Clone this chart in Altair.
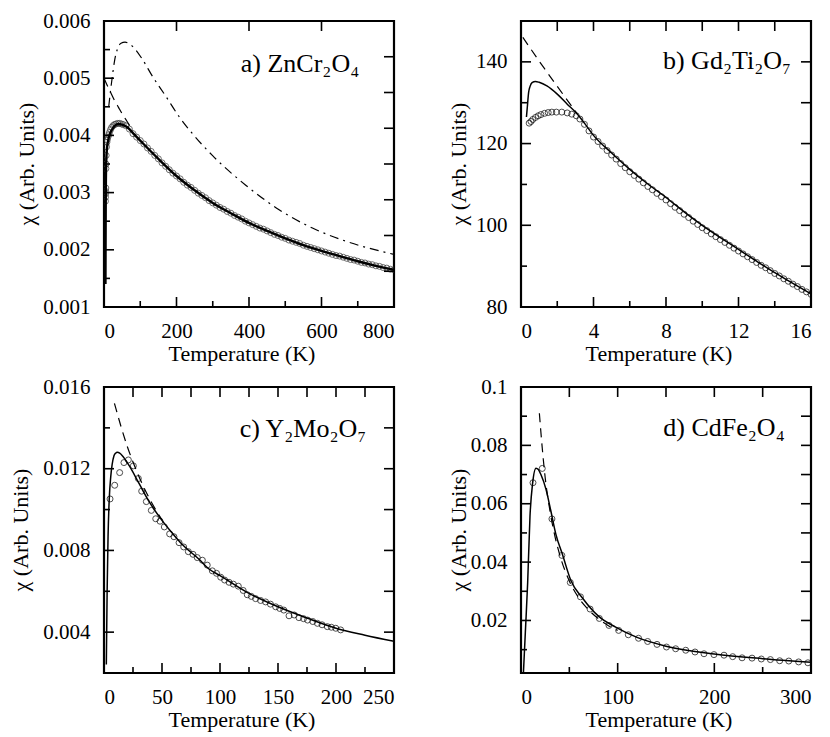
import altair as alt
import pandas as pd

FONT = "Liberation Serif"
W, H = 290, 286

# ---------------- Panel a) ZnCr2O4 ----------------
a_circ_T = [4.0, 4.2, 4.5, 4.8, 5.0, 5.3, 5.6, 6.0, 7.0, 8.0, 9.0, 11, 13, 15, 18, 21, 25, 29, 33, 38, 43, 48, 53,
            60, 70, 80, 90, 100, 110, 120, 130, 140, 150, 160, 170, 180, 190, 200, 210, 220, 230, 240, 250,
            260, 270, 280, 290, 300, 310, 320, 330, 340, 350, 360, 370, 380, 390, 400, 410, 420, 430, 440,
            450, 460, 470, 480, 490, 500, 510, 520, 530, 540, 550, 560, 570, 580, 590, 600, 610, 620, 630,
            640, 650, 660, 670, 680, 690, 700, 710, 720, 730, 740, 750, 760, 770, 780, 790, 800]
a_circ_chi = [0.00285, 0.00292, 0.00298, 0.00302, 0.00308, 0.00342, 0.00350, 0.00365, 0.00380, 0.00388,
              0.00392, 0.00397, 0.00401, 0.00405, 0.00410, 0.00414, 0.00417, 0.00419, 0.00420, 0.00421,
              0.00421, 0.00420, 0.00419,
              0.00417, 0.00411, 0.00403, 0.00397, 0.00391, 0.00385, 0.00378, 0.00372, 0.00365, 0.00359,
              0.00352, 0.00346, 0.00340, 0.00334, 0.00329, 0.00324, 0.00318, 0.00313, 0.00309, 0.00304,
              0.00299, 0.00295, 0.00291, 0.00286, 0.00282, 0.00278, 0.00274, 0.00271, 0.00267, 0.00264,
              0.00260, 0.00257, 0.00254, 0.00250, 0.00247, 0.00244, 0.00241, 0.00238, 0.00236, 0.00233,
              0.00230, 0.00227, 0.00225, 0.00222, 0.00220, 0.00217, 0.00215, 0.00213, 0.00211, 0.00208,
              0.00206, 0.00204, 0.00202, 0.00200, 0.00198, 0.00196, 0.00194, 0.00192, 0.00190, 0.00189,
              0.00187, 0.00185, 0.00183, 0.00182, 0.00180, 0.00178, 0.00177, 0.00175, 0.00174, 0.00172,
              0.00171, 0.00169, 0.00168, 0.00166, 0.00165]
a_fit_T = [4.0, 4.3, 4.7, 5.2, 6, 7, 8, 10, 13, 16, 20, 25, 30, 40, 50, 60, 70, 80, 100, 120, 150, 200,
           250, 300, 350, 400, 450, 500, 550, 600, 650, 700, 750, 800]
a_fit_chi = [0.00140, 0.00200, 0.00270, 0.00320, 0.00350, 0.00366, 0.00376, 0.00386, 0.00396, 0.00402,
             0.00408, 0.00413, 0.00417, 0.00420, 0.00419, 0.00416, 0.00411, 0.00404, 0.00391, 0.00378,
             0.00359, 0.00329, 0.00304, 0.00282, 0.00264, 0.00247, 0.00233, 0.00220, 0.00208, 0.00198,
             0.00189, 0.00180, 0.00172, 0.00165]
a_cw_T = [0, 10, 20, 30, 40, 50, 60, 70, 80]
a_cw_chi = [0.00500, 0.00486, 0.00473, 0.00460, 0.00449, 0.00438, 0.00428, 0.00418, 0.00408]
a_dd_T = [13, 18, 23, 29, 37, 47, 58, 78, 106, 133, 170, 207, 244, 299, 391, 483, 575, 667, 800]
a_dd_chi = [0.00450, 0.00478, 0.00503, 0.00530, 0.00551, 0.00561, 0.00563, 0.00556, 0.00533, 0.00504,
            0.00469, 0.00433, 0.00403, 0.00365, 0.00313, 0.00270, 0.00238, 0.00215, 0.00192]

# ---------------- Panel b) Gd2Ti2O7 ----------------
b_circ_T = [0.45, 0.55, 0.65, 0.8, 0.95, 1.1, 1.3, 1.5, 1.7, 1.95, 2.25, 2.55, 2.8, 3.05,
            3.25, 3.5, 3.75, 4.0, 4.25, 4.5, 4.75, 5.0, 5.25, 5.5, 5.75, 6.0, 6.25, 6.5, 6.75, 7.0,
            7.25, 7.5, 7.75, 8.0, 8.25, 8.5, 8.75, 9.0, 9.25, 9.5, 9.75, 10.0, 10.25, 10.5, 10.75, 11.0,
            11.25, 11.5, 11.75, 12.0, 12.25, 12.5, 12.75, 13.0, 13.25, 13.5, 13.75, 14.0, 14.25, 14.5,
            14.75, 15.0, 15.25, 15.5, 15.75, 16.0]
b_circ_chi = [125.0, 125.4, 125.9, 126.4, 126.8, 127.1, 127.4, 127.6, 127.7, 127.7, 127.7, 127.5, 127.2, 126.8,
              126.0, 124.7, 123.1, 121.6, 120.5, 119.4, 118.3, 117.2, 116.2, 115.1, 114.1, 113.1, 112.2,
              111.3, 110.4, 109.5, 108.7, 107.8, 107.0, 106.2, 105.3, 104.4, 103.6, 102.7, 101.9, 101.0,
              100.2, 99.4, 98.7, 97.9, 97.2, 96.5, 95.8, 95.1, 94.4, 93.7, 93.0, 92.3, 91.6, 90.9, 90.2,
              89.6, 88.9, 88.2, 87.6, 86.9, 86.3, 85.6, 85.0, 84.3, 83.7, 83.1]
b_fit_T = [0.3, 0.35, 0.42, 0.5, 0.61, 0.8, 1.0, 1.43, 2.0, 2.54, 3.09, 3.5, 4, 5, 6, 7, 8, 9, 10, 11,
           12, 13, 14, 15, 16]
b_fit_chi = [126.5, 129.0, 132.5, 134.0, 134.9, 135.2, 135.0, 134.1, 132.1, 129.7, 127.3, 125.0, 122.0,
             117.7, 113.7, 110.1, 106.8, 103.3, 100.0, 97.0, 94.1, 91.2, 88.4, 85.8, 83.2]
b_cw_T = [0.1, 1.0, 2.0, 3.1]
b_cw_chi = [146.0, 140.2, 134.0, 127.3]

# ---------------- Panel c) Y2Mo2O7 ----------------
c_circ_T = [5.2, 9.2, 13.5, 17.2, 21, 25.3, 29.6, 32.5, 36.5, 40.8, 44.6, 48.3, 52, 56.6, 60.3, 64.7,
            68.7, 72.7, 76.7, 80.4, 84.8, 89, 93.4, 97, 100.6, 104, 107.8, 111.5, 115.8, 120, 123.5, 127,
            130.7, 135, 139.3, 143.5, 148, 151.5, 155, 159.5, 164, 168, 172, 175.5, 180, 184, 188,
            192.5, 196, 199.8, 204]
c_circ_chi = [0.01052, 0.01119, 0.01181, 0.01230, 0.01243, 0.01214, 0.01152, 0.01090, 0.01039, 0.00996,
              0.00955, 0.00943, 0.00915, 0.00881, 0.00867, 0.00838, 0.00817, 0.00794, 0.00781, 0.00765,
              0.00752, 0.00728, 0.00700, 0.00688, 0.00669, 0.00655, 0.00644, 0.00635, 0.00625, 0.00604,
              0.00583, 0.00575, 0.00564, 0.00555, 0.00548, 0.00537, 0.00524, 0.00516, 0.00508, 0.00480,
              0.00484, 0.00471, 0.00466, 0.00459, 0.00452, 0.00443, 0.00436, 0.00427, 0.00424, 0.00419,
              0.00411]
c_fit_T = [2, 2.7, 3.5, 4.5, 5.8, 7, 8.6, 10, 11.5, 13.5, 15.8, 21.6, 30.2, 38.8, 47.4, 57.5, 67.5, 81.9,
           90.5, 100, 125, 150, 175, 200, 225, 250]
c_fit_chi = [0.00242, 0.0060, 0.0087, 0.0105, 0.0116, 0.0122, 0.01264, 0.01276, 0.0128, 0.01276, 0.01264,
             0.01216, 0.01128, 0.01040, 0.00967, 0.00894, 0.00829, 0.00757, 0.00709, 0.00677, 0.00590,
             0.00524, 0.00469, 0.00419, 0.00385, 0.00355]
c_cw_T = [9, 15, 20, 25, 30, 35, 40, 45, 50]
c_cw_chi = [0.0152, 0.0140, 0.0131, 0.01233, 0.01163, 0.01101, 0.01045, 0.00995, 0.0095]

# ---------------- Panel d) CdFe2O4 ----------------
d_circ_T = [12.4, 22, 32, 42.3, 51, 61.5, 71.5, 81, 91, 101, 111, 121.6, 131, 140.7, 150.5, 160, 170.4,
            180, 189.3, 199.6, 210, 219, 228.7, 239, 248.6, 258, 267.6, 277, 287.2, 296.8]
d_circ_chi = [0.0672, 0.0721, 0.0548, 0.0423, 0.0330, 0.0281, 0.0239, 0.0207, 0.0183, 0.0166, 0.0151,
              0.0139, 0.0128, 0.0118, 0.0109, 0.0103, 0.0098, 0.0092, 0.0086, 0.0083, 0.0081, 0.0076,
              0.0072, 0.0071, 0.0068, 0.0066, 0.0062, 0.0061, 0.0058, 0.0055]
d_fit_T = [2.5, 4.5, 6.9, 9.3, 12, 15.5, 18, 20.6, 25.8, 30.9, 36.1, 43, 51.5, 63.6, 80.7, 97.9, 120, 150,
           200, 250, 300]
d_fit_chi = [0.002, 0.016, 0.033, 0.0557, 0.067, 0.0722, 0.0717, 0.0700, 0.0650, 0.0575, 0.0495, 0.0425,
             0.0338, 0.0277, 0.0213, 0.0177, 0.0142, 0.0112, 0.0085, 0.0069, 0.0057]
d_cw_T = [19, 22, 25, 30, 35, 40, 50, 60, 70, 80, 90, 100]
d_cw_chi = [0.091, 0.079, 0.069, 0.0575, 0.0490, 0.0426, 0.0335, 0.0276, 0.0236, 0.0206, 0.0183, 0.0166]

# ---------------- axis ticks / labels / titles ----------------
x_title = "Temperature (K)"
y_title = "χ (Arb. Units)"
a_xlabels = [0, 200, 400, 600, 800]
a_ylabels = [0.001, 0.002, 0.003, 0.004, 0.005, 0.006]
b_xlabels = [0, 4, 8, 12, 16]
b_ylabels = [80, 100, 120, 140]
c_xlabels = [0, 50, 100, 150, 200, 250]
c_ylabels = [0.004, 0.008, 0.012, 0.016]
d_xlabels = [0, 100, 200, 300]
d_ylabels = [0.02, 0.04, 0.06, 0.08, 0.1]

a_ticks = dict(bottom_major=[200, 400, 600], bottom_minor=[100, 300, 500, 700],
               left_major=[0.002, 0.003, 0.004, 0.005], left_minor=[0.0015, 0.0025, 0.0035, 0.0045, 0.0055],
               right=[0.001625, 0.00225, 0.002875, 0.0035, 0.004125, 0.00475, 0.005375],
               top=[200, 400, 600])
b_ticks = dict(bottom_major=[4, 8, 12], bottom_minor=[2, 6, 10, 14],
               left_major=[100, 120, 140], left_minor=[90, 110, 130],
               right=[90, 100, 110, 120, 130, 140], top=[2, 4, 6, 8, 10, 12, 14])
c_ticks = dict(bottom_major=[50, 100, 150, 200], bottom_minor=[25, 75, 125, 175, 225],
               left_major=[0.004, 0.008, 0.012], left_minor=[0.006, 0.010, 0.014],
               right=[0.004, 0.006, 0.008, 0.010, 0.012, 0.014], top=[25, 50, 75, 100, 125, 150, 175, 200, 225])
d_ticks = dict(bottom_major=[100, 200], bottom_minor=[50, 150, 250],
               left_major=[0.02, 0.04, 0.06, 0.08], left_minor=[0.01, 0.03, 0.05, 0.07, 0.09],
               right=[0.01, 0.02, 0.03, 0.04, 0.05, 0.06, 0.07, 0.08, 0.09], top=[50, 100, 150, 200, 250])

MAJ, MIN, OPP = 10, 6, 10


def panel(series, xdom, ydom, xlabels, ylabels, yfmt, ticks, label, lab_x, lab_y, ytitle_x,
          fit_width=1.5, circ_color="black"):
    xs = alt.Scale(domain=xdom, nice=False, zero=False)
    ys = alt.Scale(domain=ydom, nice=False, zero=False)
    xax = alt.Axis(values=xlabels, format="d", ticks=False, domain=False, grid=False,
                   labelPadding=13, title=None)
    yax = alt.Axis(values=ylabels, format=yfmt, ticks=False, domain=False, grid=False,
                   labelPadding=14, title=None)
    X = lambda f: alt.X(f, scale=xs, axis=xax)
    Y = lambda f: alt.Y(f, scale=ys, axis=yax)
    layers = []
    for kind, T, chi in series:
        df = pd.DataFrame({"T": T, "chi": chi})
        base = alt.Chart(df)
        if kind == "circles":
            m = base.mark_point(shape="circle", filled=False, size=36, color=circ_color,
                                strokeWidth=1.0, clip=True)
        elif kind == "fit":
            m = base.mark_line(color="black", strokeWidth=fit_width, interpolate="monotone", clip=True)
        elif kind == "cw":
            m = base.mark_line(color="black", strokeWidth=1.2, strokeDash=[9, 6],
                               interpolate="monotone", clip=True)
        else:
            m = base.mark_line(color="black", strokeWidth=1.2, strokeDash=[9, 5, 2, 5],
                               interpolate="monotone", clip=True)
        layers.append(m.encode(x=X("T:Q"), y=Y("chi:Q")))

    def xt(vals, y0, y1):
        return alt.Chart(pd.DataFrame({"T": vals})).mark_rule(color="black", strokeWidth=1.6).encode(
            x=X("T:Q"), y=alt.value(y0), y2=alt.value(y1))

    def yt(vals, x0, x1):
        return alt.Chart(pd.DataFrame({"chi": vals})).mark_rule(color="black", strokeWidth=1.6).encode(
            y=Y("chi:Q"), x=alt.value(x0), x2=alt.value(x1))

    layers += [
        xt(ticks["bottom_major"], H, H - MAJ),
        xt(ticks["bottom_minor"], H, H - MIN),
        xt(ticks["top"], 0, OPP),
        yt(ticks["left_major"], 0, MAJ),
        yt(ticks["left_minor"], 0, MIN),
        yt(ticks["right"], W, W - OPP),
    ]
    txt = alt.Chart(pd.DataFrame({"lab": [label]})).mark_text(
        align="center", baseline="alphabetic", font=FONT, fontSize=26, color="black"
    ).encode(x=alt.value(lab_x), y=alt.value(lab_y), text="lab:N")
    xtit = alt.Chart(pd.DataFrame({"lab": [x_title]})).mark_text(
        align="center", baseline="alphabetic", font=FONT, fontSize=22, color="black"
    ).encode(x=alt.value(W / 2 - 7), y=alt.value(H + 54), text="lab:N")
    ytit = alt.Chart(pd.DataFrame({"lab": [y_title]})).mark_text(
        align="center", baseline="alphabetic", font=FONT, fontSize=22, color="black", angle=270
    ).encode(x=alt.value(ytitle_x), y=alt.value(H / 2), text="lab:N")
    layers += [txt, xtit, ytit]
    return alt.layer(*layers).properties(width=W, height=H)


pa = panel([("circles", a_circ_T, a_circ_chi), ("cw", a_cw_T, a_cw_chi), ("dd", a_dd_T, a_dd_chi),
            ("fit", a_fit_T, a_fit_chi)],
           [0, 800], [0.001, 0.006], a_xlabels, a_ylabels, ".3f", a_ticks, "a) ZnCr₂O₄",
           196, 51, -70, fit_width=2.4, circ_color="#333333")
pb = panel([("circles", b_circ_T, b_circ_chi), ("cw", b_cw_T, b_cw_chi), ("fit", b_fit_T, b_fit_chi)],
           [0, 16], [80, 150], b_xlabels, b_ylabels, "d", b_ticks, "b) Gd₂Ti₂O₇", 206, 48, -55)
pc = panel([("circles", c_circ_T, c_circ_chi), ("cw", c_cw_T, c_cw_chi), ("fit", c_fit_T, c_fit_chi)],
           [0, 250], [0.002, 0.016], c_xlabels, c_ylabels, ".3f", c_ticks, "c) Y₂Mo₂O₇", 199, 50, -76)
pd_ = panel([("circles", d_circ_T, d_circ_chi), ("cw", d_cw_T, d_cw_chi), ("fit", d_fit_T, d_fit_chi)],
            [0, 300], [0.002, 0.1], d_xlabels, d_ylabels, ".2~f", d_ticks, "d) CdFe₂O₄", 203, 49, -55)

chart = alt.concat(pa, pb, pc, pd_, columns=2, spacing={"row": 80, "column": 127}, bounds="flush").properties(
    padding={"left": 0, "top": 0, "right": 0, "bottom": 0}, background="white"
).configure_view(stroke="black", strokeWidth=2.2).configure_axis(
    labelFont=FONT, labelFontSize=21, labelColor="black", labelFontWeight="normal"
)

chart.save("out.html", embed_options={"renderer": "svg", "actions": False})
